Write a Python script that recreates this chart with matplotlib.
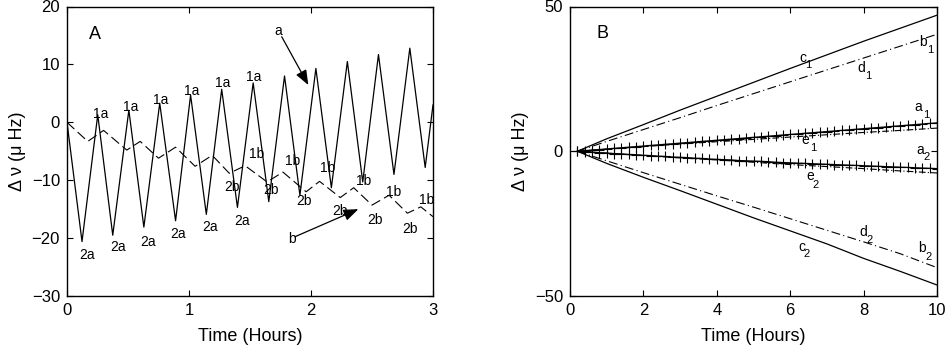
import numpy as np
import matplotlib
matplotlib.use('Agg')
import matplotlib.pyplot as plt

plt.rcParams['font.family'] = ['Liberation Sans', 'DejaVu Sans']

# ---- panel A data (hours, micro Hz) ----
# solid trace, read at its peaks and troughs
a_solid_t = [0, 0.123, 0.252, 0.375, 0.507, 0.63, 0.76, 0.89, 1.013, 1.142, 1.268,
             1.397, 1.526, 1.654, 1.783, 1.909, 2.04, 2.167, 2.298, 2.424, 2.553,
             2.68, 2.81, 2.936, 3.0]
a_solid_v = [0, -20.6, 1.3, -19.5, 2.1, -18.1, 3.3, -17.0, 4.7, -15.9, 5.7,
             -14.7, 6.8, -13.7, 8.0, -12.6, 9.3, -11.3, 10.5, -10.3, 11.7,
             -9.0, 12.8, -7.8, 3.0]
# dashed trace
a_dash_t = [0, 0.17, 0.30, 0.49, 0.60, 0.75, 0.89, 1.05, 1.19, 1.33, 1.46, 1.64,
            1.77, 1.96, 2.07, 2.24, 2.35, 2.50, 2.64, 2.79, 2.90, 3.0]
a_dash_v = [0, -3.3, -1.4, -4.8, -3.3, -6.2, -4.3, -7.6, -5.7, -8.8, -7.5, -10.3,
            -8.6, -12.0, -10.2, -13.0, -11.3, -14.3, -12.6, -15.7, -14.6, -16.3]

# ---- panel B data ----
b_t = [0.2, 1, 2, 3, 4, 5, 6, 7, 8, 9, 10]
c1 = [0, 4.3, 9.2, 14.2, 19.0, 23.8, 28.6, 33.3, 38.0, 42.5, 47.0]
c2 = [0, -4.2, -9.0, -13.6, -18.3, -23.0, -27.5, -32.0, -37.0, -41.5, -46.2]
d1 = [0, 3.4, 7.5, 11.6, 15.8, 19.9, 24.0, 28.1, 32.2, 36.3, 40.4]
d2 = [0, -3.3, -7.4, -11.4, -15.4, -19.3, -23.3, -27.3, -31.3, -35.4, -40.2]
e1 = [0, 0.7, 1.6, 2.5, 3.3, 4.1, 4.9, 5.7, 6.5, 7.2, 8.0]
e2 = [0, -0.7, -1.5, -2.3, -3.0, -3.8, -4.6, -5.3, -6.0, -6.8, -7.5]

# marked traces a1 / a2, one value every 0.2 h
a_mark_t = np.round(np.arange(0.2, 10.01, 0.2), 1)
a1 = [0.0, 0.2, 0.4, 0.6, 0.8, 1.0, 1.2, 1.4, 1.6, 1.8,
      2.0, 2.2, 2.4, 2.6, 2.8, 3.0, 3.2, 3.4, 3.6, 3.8,
      4.0, 4.2, 4.4, 4.6, 4.8, 5.0, 5.2, 5.4, 5.6, 5.8,
      6.0, 6.2, 6.4, 6.6, 6.8, 7.0, 7.2, 7.4, 7.6, 7.8,
      8.0, 8.2, 8.4, 8.6, 8.8, 9.0, 9.2, 9.4, 9.6, 9.8]
a2 = [0.0, -0.2, -0.3, -0.5, -0.6, -0.8, -0.9, -1.1, -1.2, -1.4,
      -1.5, -1.7, -1.8, -2.0, -2.1, -2.2, -2.4, -2.5, -2.7, -2.8,
      -2.9, -3.0, -3.2, -3.3, -3.4, -3.5, -3.6, -3.8, -3.9, -4.0,
      -4.1, -4.2, -4.3, -4.4, -4.5, -4.6, -4.7, -4.8, -4.9, -5.0,
      -5.1, -5.2, -5.3, -5.4, -5.5, -5.6, -5.7, -5.8, -5.9, -6.0]

fig = plt.figure(figsize=(9.47, 3.48), dpi=100)
axA = fig.add_axes([67/947, 1-296/348, 366/947, 289.5/348])
axB = fig.add_axes([570/947, 1-296/348, 367/947, 289.5/348])

# ---------------- panel A ----------------
axA.plot(a_solid_t, a_solid_v, color='k', lw=0.9)
axA.plot(a_dash_t, a_dash_v, color='k', lw=0.8, ls=(0, (9, 4)))

lab1a = [(0.279, 1.4), (0.520, 2.6), (0.766, 3.9), (1.023, 5.4), (1.273, 6.8), (1.527, 7.9)]
lab2a = [(0.161, -22.9), (0.420, -21.6), (0.666, -20.6), (0.912, -19.3), (1.172, -18.1), (1.432, -17.0)]
lab1b = [(1.555, -5.4), (1.850, -6.6), (2.134, -7.9), (2.434, -10.1), (2.680, -12.0), (2.948, -13.5)]
lab2b = [(1.350, -11.1), (1.670, -11.7), (1.943, -13.6), (2.238, -15.4), (2.525, -16.8), (2.811, -18.5)]
for txt, pts in [('1a', lab1a), ('2a', lab2a), ('1b', lab1b), ('2b', lab2b)]:
    for x, y in pts:
        axA.text(x, y, txt, fontsize=10, ha='center', va='center')

axA.text(0.23, 15.25, 'A', fontsize=13, ha='center', va='center')
axA.text(1.732, 15.8, 'a', fontsize=10, ha='center', va='center')
axA.text(1.842, -20.2, 'b', fontsize=10, ha='center', va='center')
arr = dict(arrowstyle='-|>,head_length=0.9,head_width=0.35', lw=0.9, color='k',
           shrinkA=0, shrinkB=0)
axA.annotate('', xy=(1.978, 6.44), xytext=(1.760, 14.78), arrowprops=arr)
axA.annotate('', xy=(2.388, -15.0), xytext=(1.869, -19.76), arrowprops=arr)

axA.set_xlim(0, 3)
axA.set_ylim(-30, 20)
axA.set_xticks([0, 1, 2, 3])
axA.set_yticks([-30, -20, -10, 0, 10, 20])

# ---------------- panel B ----------------
axB.plot(b_t, c1, color='k', lw=0.9)
axB.plot(b_t, c2, color='k', lw=0.9)
axB.plot(b_t, d1, color='k', lw=0.8, ls=(0, (8, 3, 1, 3)))
axB.plot(b_t, d2, color='k', lw=0.8, ls=(0, (8, 3, 1, 3)))
axB.plot(b_t, e1, color='k', lw=0.8, ls=(0, (6, 2, 1, 2)))
axB.plot(b_t, e2, color='k', lw=0.8, ls=(0, (6, 2, 1, 2)))
axB.plot(a_mark_t, a1, color='k', lw=0.9, marker='+', ms=7, mew=0.8)
axB.plot(a_mark_t, a2, color='k', lw=0.9, marker='+', ms=7, mew=0.8)

labB = [('c', '1', (6.357, 32.1), (6.49, 29.8)),
        ('d', '1', (7.948, 28.6), (8.128, 26.0)),
        ('b', '1', (9.627, 37.8), (9.828, 35.0)),
        ('a', '1', (9.490, 15.4), (9.700, 12.5)),
        ('e', '1', (6.403, 3.9), (6.63, 1.0)),
        ('a', '2', (9.537, 0.4), (9.72, -2.1)),
        ('e', '2', (6.54, -8.6), (6.70, -11.6)),
        ('c', '2', (6.313, -33.0), (6.449, -35.6)),
        ('d', '2', (7.992, -27.8), (8.174, -30.7)),
        ('b', '2', (9.583, -33.5), (9.763, -36.4))]
for let, sub, p1, p2 in labB:
    axB.text(p1[0], p1[1], let, fontsize=10, ha='center', va='center')
    axB.text(p2[0], p2[1], sub, fontsize=8, ha='center', va='center')

axB.text(0.88, 40.8, 'B', fontsize=13, ha='center', va='center')
axB.set_xlim(0, 10)
axB.set_ylim(-50, 50)
axB.set_xticks([0, 2, 4, 6, 8, 10])
axB.set_yticks([-50, 0, 50])

for ax in (axA, axB):
    ax.tick_params(direction='in', top=True, right=True, length=4, width=0.8,
                   labelsize=12, pad=5)
    for s in ax.spines.values():
        s.set_linewidth(1.0)
    ax.set_xlabel('Time (Hours)', fontsize=13, labelpad=7)
    ax.set_ylabel('Δ ν (μ Hz)', fontsize=13, labelpad=4)

fig.savefig('out.png', dpi=100)
